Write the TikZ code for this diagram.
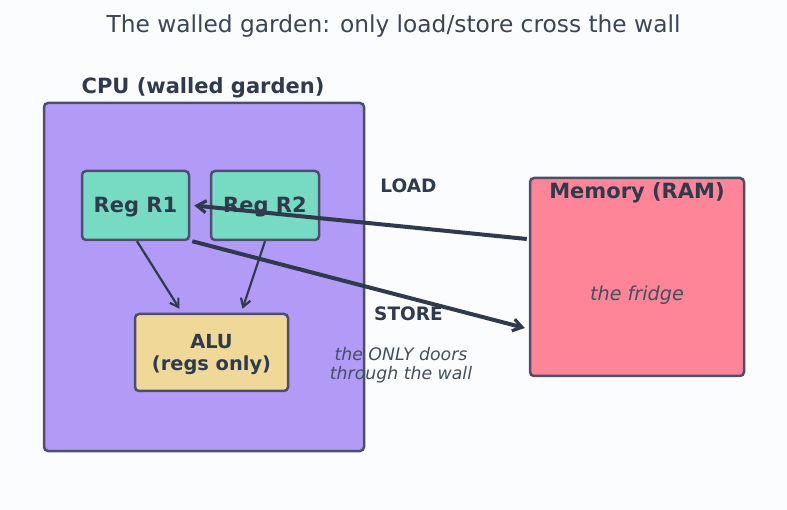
\documentclass[tikz,border=0pt]{standalone}
\usepackage{fontspec}
\setmainfont{DejaVu Sans}
\usetikzlibrary{arrows.meta}
\definecolor{bgc}{HTML}{FBFCFE}
\definecolor{cpuc}{HTML}{B19BF7}
\definecolor{regc}{HTML}{77DBC3}
\definecolor{aluc}{HTML}{F0D898}
\definecolor{memc}{HTML}{FE8497}
\definecolor{edgec}{HTML}{4B4F6A}
\definecolor{inkc}{HTML}{2F3B4C}
\definecolor{titlec}{HTML}{3A4556}
\tikzset{
  box/.style={draw=edgec, line width=2.5pt, rounded corners=4pt, inner sep=0pt},
  bold21/.style={font=\fontsize{21}{25}\selectfont\bfseries, text=inkc},
  bigarrow/.style={draw=inkc, line width=4pt, -{Straight Barb[length=9pt,width=12pt,line width=3.2pt]}},
  smallarrow/.style={draw=inkc, line width=2.2pt, -{Straight Barb[length=8pt,width=10pt,line width=2.2pt]}},
  lbl/.style={font=\fontsize{18.5}{22}\selectfont\bfseries, text=inkc},
  note/.style={font=\fontsize{17.3}{19}\selectfont\itshape, text=inkc!90, align=center}
}
\begin{document}
\begin{tikzpicture}[x=1pt,y=-1pt]
\useasboundingbox (0,0) rectangle (787,510);
\fill[bgc] (0,0) rectangle (787,510);
\node[font=\fontsize{23.3}{27}\selectfont, text=titlec] (title) at (393.5,26.5) {The walled garden: only load/store cross the wall};
\node[box, fill=cpuc, minimum width=320pt, minimum height=348pt] (cpu) at (204,277) {};
\node[bold21] (cpulbl) at (203,88) {CPU (walled garden)};
\node[box, fill=regc, minimum width=107pt, minimum height=69pt, bold21, text depth=0pt, text height=15pt] (r1) at (135.5,205.5) {Reg R1};
\node[box, fill=regc, minimum width=108pt, minimum height=69pt, bold21, text depth=0pt, text height=15pt] (r2) at (265,205.5) {Reg R2};
\node[box, fill=aluc, minimum width=153pt, minimum height=77pt] (alu) at (211.5,352.5) {};
\node[align=center, font=\fontsize{19.4}{22}\selectfont\bfseries, text=inkc] (alutxt) at ([yshift=-2.5pt]alu.center) {ALU\\(regs only)};
\node[box, fill=memc, minimum width=214pt, minimum height=198pt] (mem) at (637,277) {};
\node[bold21] (memlbl) at (637,193) {Memory (RAM)};
\node[font=\fontsize{19.2}{23}\selectfont\itshape, text=inkc!90] (fridge) at (637,295) {the fridge};
\node[lbl] (load) at (408.5,186) {LOAD};
\node[lbl] (store) at (408.5,314) {STORE};
\node[note] (doors) at (401,365.5) {the ONLY doors\\through the wall};
\draw[bigarrow] ([xshift=-2pt,yshift=38pt]mem.west) -- ([xshift=4pt]r1.east);
\draw[bigarrow] ([xshift=2pt]r1.south east) -- ([xshift=-4pt,yshift=-51pt]mem.west);
\draw[smallarrow] ([xshift=1.5pt]r1.south) -- ([xshift=-32pt,yshift=4pt]alu.north);
\draw[smallarrow] (r2.south) -- ([xshift=31pt,yshift=4pt]alu.north);
\end{tikzpicture}
\end{document}
